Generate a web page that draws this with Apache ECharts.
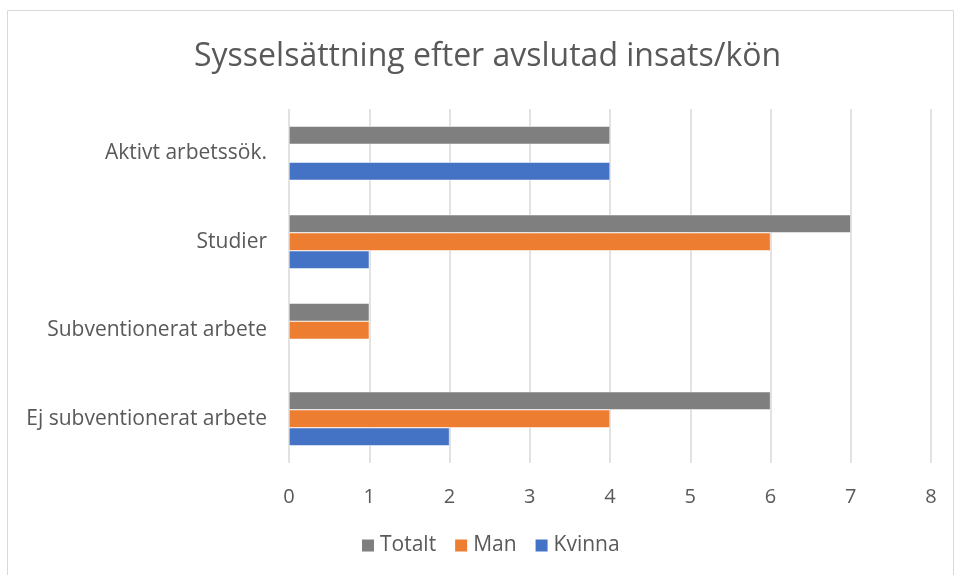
<!DOCTYPE html>
<html>
<head>
<meta charset="utf-8">
<script src="https://cdn.jsdelivr.net/npm/echarts@6/dist/echarts.min.js"></script>
<style>
  html, body { margin: 0; padding: 0; background: #fff; }
  #chart { width: 957px; height: 575px; }
</style>
</head>
<body>
<div id="chart"></div>
<script>
const categories = ['Ej subventionerat arbete', 'Subventionerat arbete', 'Studier', 'Aktivt arbetssök.']
const totalt = [6, 1, 7, 4]
const man = [4, 1, 6, null]
const kvinna = [2, null, 1, 4]

const chart = echarts.init(document.getElementById('chart'))
const font = 'Open Sans, Noto Sans, sans-serif'

const option = {
  animation: false,
  graphic: [
    {
      type: 'rect',
      shape: { x: 7.5, y: 10.5, width: 946, height: 570 },
      style: { fill: 'none', stroke: '#d9d9d9', lineWidth: 1 },
      silent: true
    }
  ],
  title: {
    text: 'Sysselsättning efter avslutad insats/kön',
    left: 189,
    top: 36,
    textStyle: { color: '#595959', fontSize: 32, fontWeight: 'normal', fontFamily: font }
  },
  legend: {
    data: ['Totalt', 'Man', 'Kvinna'],
    bottom: 14,
    left: 355,
    itemWidth: 14,
    itemHeight: 14,
    itemGap: 17,
    icon: 'rect',
    textStyle: { color: '#595959', fontSize: 21, fontFamily: font }
  },
  grid: {
    left: 289,
    right: 26,
    top: 109,
    bottom: 112
  },
  xAxis: {
    type: 'value',
    min: 0,
    max: 8,
    interval: 1,
    axisLine: { show: false },
    axisTick: { show: false },
    axisLabel: { color: '#595959', fontSize: 20, fontFamily: font, margin: 24 },
    splitLine: { lineStyle: { color: '#d9d9d9', width: 1.5 } }
  },
  yAxis: {
    type: 'category',
    data: categories,
    axisLine: { show: false },
    axisTick: { show: false },
    axisLabel: { color: '#595959', fontSize: 21, fontFamily: font, margin: 22 }
  },
  series: [
    {
      name: 'Totalt', type: 'bar', data: totalt,
      barWidth: 18, barGap: '0%',
      itemStyle: { color: '#7f7f7f', borderColor: '#fff', borderWidth: 0.5 }
    },
    {
      name: 'Man', type: 'bar', data: man,
      barWidth: 18, barGap: '0%',
      itemStyle: { color: '#ed7d31', borderColor: '#fff', borderWidth: 0.5 }
    },
    {
      name: 'Kvinna', type: 'bar', data: kvinna,
      barWidth: 18, barGap: '0%',
      itemStyle: { color: '#4472c4', borderColor: '#fff', borderWidth: 0.5 }
    }
  ]
}

chart.setOption(option)
</script>
</body>
</html>
